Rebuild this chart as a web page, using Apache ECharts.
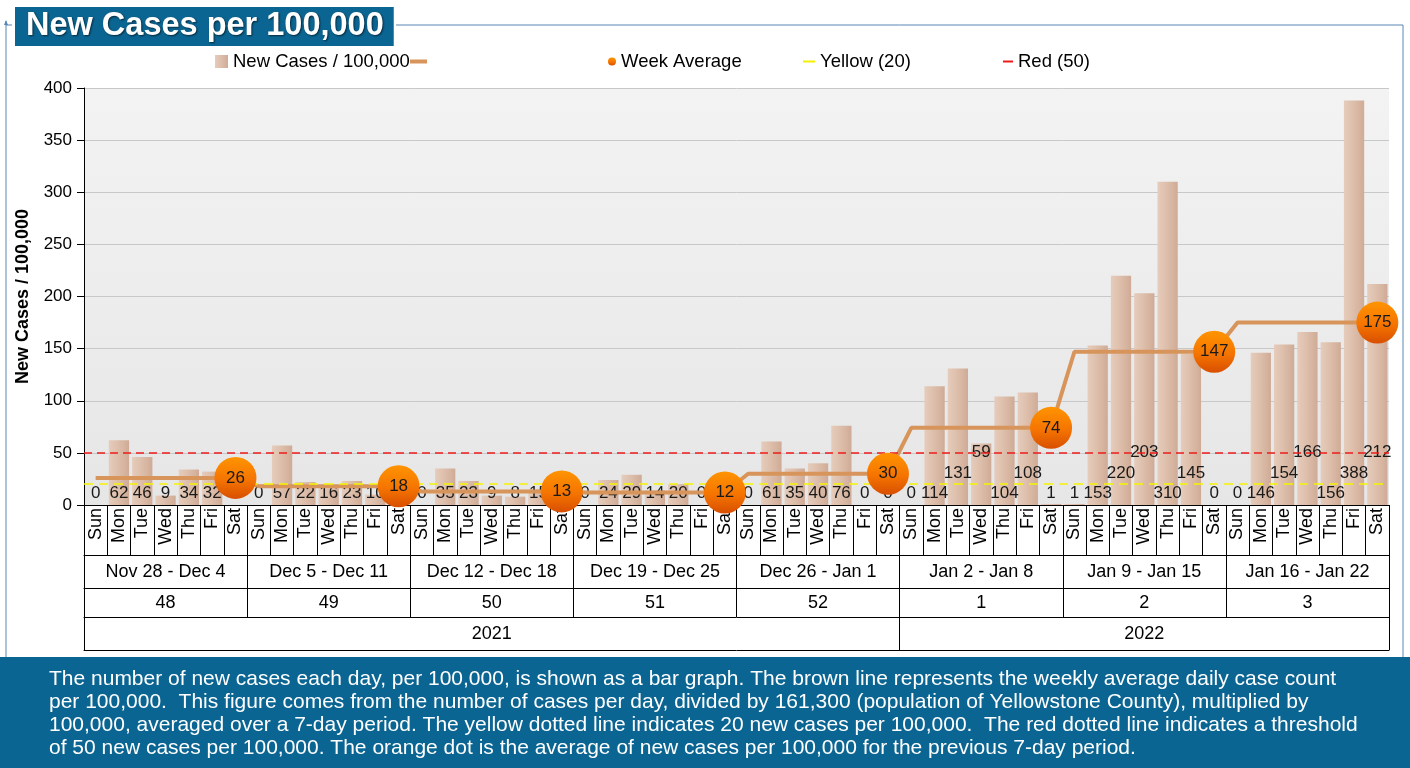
<!DOCTYPE html>
<html><head><meta charset="utf-8">
<script src="https://cdn.jsdelivr.net/npm/echarts@6/dist/echarts.min.js"></script>
<style>html,body{margin:0;padding:0;background:#fff}#c{width:1410px;height:768px}</style>
</head><body><div id="c"></div>
<script>
// ---------- data ----------
const dayNames = ['Sun','Mon','Tue','Wed','Thu','Fri','Sat'];
const weekRanges = ['Nov 28 - Dec 4','Dec 5 - Dec 11','Dec 12 - Dec 18','Dec 19 - Dec 25','Dec 26 - Jan 1','Jan 2 - Jan 8','Jan 9 - Jan 15','Jan 16 - Jan 22'];
const weekNumbers = ['48','49','50','51','52','1','2','3'];
const years = ['2021','2022'];
const yearWeekCounts = [5,3];
const newCases = [
  0, 62, 46, 9, 34, 32, 0,
  0, 57, 22, 16, 23, 10, 0,
  0, 35, 23, 9, 8, 15, 1,
  0, 24, 29, 14, 20, 0, 0,
  0, 61, 35, 40, 76, 0, 0,
  0, 114, 131, 59, 104, 108, 1,
  1, 153, 220, 203, 310, 145, 0,
  0, 146, 154, 166, 156, 388, 212
];
const weekAverage = [26, 18, 13, 12, 30, 74, 147, 175];
const yellowLevel = 20;
const redLevel = 50;
const yTickValues = [0, 50, 100, 150, 200, 250, 300, 350, 400];
const noteLines = [
  'The number of new cases each day, per 100,000, is shown as a bar graph. The brown line represents the weekly average daily case count',
  'per 100,000.  This figure comes from the number of cases per day, divided by 161,300 (population of Yellowstone County), multiplied by',
  '100,000, averaged over a 7-day period. The yellow dotted line indicates 20 new cases per 100,000.  The red dotted line indicates a threshold',
  'of 50 new cases per 100,000. The orange dot is the average of new cases per 100,000 for the previous 7-day period.'
];

// ---------- layout / style ----------
const FF = '"Liberation Sans", Arial, sans-serif';
const W = 1410, GL = 84, GR = 21, GT = 88, GB = 263;
const LFS = 17;
const nDays = newCases.length;
const catW = (W - GL - GR) / nDays;
const digitW = 0.556 * LFS;
const rowH = 20.5;

const dayLabels = [];
weekRanges.forEach(() => dayNames.forEach(d => dayLabels.push(d)));

// simple label de-overlap: bump label up a row when it would collide with previous one
const rows = [];
newCases.forEach((v, i) => {
  if (i === 0) { rows.push(0); return; }
  const w = String(v).length * digitW, pw = String(newCases[i - 1]).length * digitW;
  rows.push((w + pw) / 2 > catW ? (rows[i - 1] + 1) % 3 : 0);
});
const barData = newCases.map((v, i) => ({ value: v, label: { offset: [0, -rowH * rows[i]] } }));
const lineData = newCases.map((v, i) => weekAverage[Math.floor(i / 7)]);
const dotData = newCases.map((v, i) => (i % 7 === 6 ? weekAverage[Math.floor(i / 7)] : '-'));

const yearLabels = [], yearBounds = new Set();
let acc = 0;
years.forEach((y, k) => {
  yearBounds.add(acc);
  for (let j = 0; j < yearWeekCounts[k]; j++) yearLabels.push(j === Math.floor((yearWeekCounts[k] - 1) / 2) ? y : '');
  acc += yearWeekCounts[k];
});

const blk = '#000';
function tableAxis(data, offset, tickLen, margin, fs, tickInterval) {
  return {
    type: 'category', data: data, position: 'bottom', offset: offset, boundaryGap: true,
    axisLine: { show: true, lineStyle: { color: blk, width: 1 } },
    axisTick: { show: true, interval: tickInterval === undefined ? 0 : tickInterval, length: tickLen, lineStyle: { color: blk, width: 1 } },
    axisLabel: { show: true, interval: 0, margin: margin, fontSize: fs, color: '#000', fontFamily: FF },
    splitLine: { show: false }
  };
}

const chart = echarts.init(document.getElementById('c'), null, { renderer: 'canvas' });
const legText = { fontSize: 18.5, color: '#000', fontFamily: FF };
const option = {
  animation: false,
  backgroundColor: '#fff',
  title: {
    text: 'New Cases per 100,000', left: 15, top: 7, padding: [3, 10, 3, 11],
    backgroundColor: '#0b6592',
    textStyle: { color: '#fff', fontSize: 32.5, fontWeight: 'bold', fontFamily: FF, lineHeight: 33,
      textShadowColor: 'rgba(0,0,0,0.6)', textShadowBlur: 2, textShadowOffsetX: 1, textShadowOffsetY: 1 }
  },
  legend: [
    { left: 215, top: 52, padding: 0, itemWidth: 13, itemHeight: 13, data: [{ name: 'New Cases / 100,000', icon: 'rect' }], textStyle: legText },
    { left: 410, top: 52, padding: 0, itemWidth: 17, itemHeight: 4, data: [{ name: ' ', icon: 'rect' }], textStyle: legText },
    { left: 608, top: 52, padding: 0, itemWidth: 8, itemHeight: 8, data: [{ name: 'Week Average', icon: 'circle' }], textStyle: legText },
    { left: 803, top: 52, padding: 0, itemWidth: 12, itemHeight: 2, data: [{ name: 'Yellow (20)', icon: 'rect' }], textStyle: legText },
    { left: 1003, top: 52, padding: 0, itemWidth: 10, itemHeight: 2, data: [{ name: 'Red (50)', icon: 'rect' }], textStyle: legText }
  ],
  grid: {
    left: GL, right: GR, top: GT, bottom: GB, show: true, borderWidth: 0, containLabel: false, outerBoundsMode: 'none',
    backgroundColor: new echarts.graphic.LinearGradient(0, 0, 0, 1, [{ offset: 0, color: '#f3f3f3' }, { offset: 1, color: '#e6e6e6' }])
  },
  xAxis: [
    Object.assign(tableAxis(dayLabels, 0, 50, 3, 18), { axisLabel: { show: true, interval: 0, rotate: 90, margin: 3, fontSize: 18, color: '#000', fontFamily: FF } }),
    tableAxis(weekRanges, 50, 33, 8, 18),
    tableAxis(weekNumbers, 83, 29, 6, 18),
    tableAxis(yearLabels, 112, 33, 8, 18, function (idx) { return yearBounds.has(idx); }),
    { type: 'category', data: [''], position: 'bottom', offset: 145, axisLine: { show: true, lineStyle: { color: blk } }, axisTick: { show: false }, axisLabel: { show: false } }
  ],
  yAxis: {
    type: 'value', min: yTickValues[0], max: yTickValues[yTickValues.length - 1], interval: yTickValues[1] - yTickValues[0],
    name: 'New Cases / 100,000', nameLocation: 'middle', nameGap: 52,
    nameTextStyle: { fontSize: 18, fontWeight: 'bold', color: '#000', fontFamily: FF },
    axisLine: { show: true, lineStyle: { color: blk } },
    axisTick: { show: true, length: 7, lineStyle: { color: blk } },
    axisLabel: { fontSize: 17, color: '#000', margin: 12, fontFamily: FF },
    splitLine: { show: true, lineStyle: { color: '#c8c8c8', width: 1 } }
  },
  series: [
    {
      name: 'New Cases / 100,000', type: 'bar', data: barData, barCategoryGap: '13%', z: 2,
      itemStyle: { color: new echarts.graphic.LinearGradient(0, 0, 1, 0, [{ offset: 0, color: '#e6ccbc' }, { offset: 0.5, color: '#dcbda9' }, { offset: 1, color: '#cfab97' }]) },
      label: { show: true, position: 'insideBottom', distance: 3, fontSize: LFS, color: '#1a1a1a', fontFamily: FF, formatter: '{c}' }
    },
    {
      name: ' ', type: 'line', data: lineData, symbol: 'none', z: 3,
      itemStyle: { color: '#d8955b' }, lineStyle: { color: '#d8955b', width: 4 }
    },
    {
      name: 'Week Average', type: 'scatter', data: dotData, symbolSize: 42, z: 5,
      itemStyle: { opacity: 1, color: new echarts.graphic.LinearGradient(0, 0, 0, 1, [{ offset: 0, color: '#ff9400' }, { offset: 0.55, color: '#f57400' }, { offset: 1, color: '#d84f00' }]) },
      label: { show: true, position: 'inside', fontSize: LFS, color: '#1a1a1a', fontFamily: FF, formatter: '{c}' }
    },
    {
      name: 'Yellow (20)', type: 'line', data: [], z: 3,
      itemStyle: { color: '#f2f200' }, lineStyle: { color: '#f2f200' },
      markLine: { silent: true, symbol: 'none', label: { show: false }, lineStyle: { color: '#f5f500', type: [9, 6], width: 1.5 }, data: [{ yAxis: yellowLevel }] }
    },
    {
      name: 'Red (50)', type: 'line', data: [], z: 3,
      itemStyle: { color: '#ee1c1c' }, lineStyle: { color: '#ee1c1c' },
      markLine: { silent: true, symbol: 'none', label: { show: false }, lineStyle: { color: '#ee1c1c', type: [8, 5], width: 1.5 }, data: [{ yAxis: redLevel }] }
    }
  ],
  graphic: [
    { type: 'polyline', shape: { points: [[396, 25], [1403, 25], [1403, 657]] }, style: { stroke: '#5b86b3', lineWidth: 1, fill: null }, silent: true },
    { type: 'polyline', shape: { points: [[12, 25], [6, 25]] }, style: { stroke: '#5b86b3', lineWidth: 1, fill: null }, silent: true },
    { type: 'line', shape: { x1: 6, y1: 21, x2: 6, y2: 657 }, style: { stroke: '#5b86b3', lineWidth: 1 }, silent: true },
    { type: 'polygon', shape: { points: [[4, 25], [6, 20], [8, 25]] }, style: { fill: '#5b86b3' }, silent: true },
    { type: 'rect', shape: { x: 0, y: 657, width: 1410, height: 111 }, style: { fill: '#0b6592' }, silent: true },
    { type: 'text', x: 49, y: 668, style: { text: noteLines.join('\n'), fill: '#fff', font: '21px ' + FF, lineHeight: 23 }, silent: true }
  ]
};
chart.setOption(option);
</script></body></html>
